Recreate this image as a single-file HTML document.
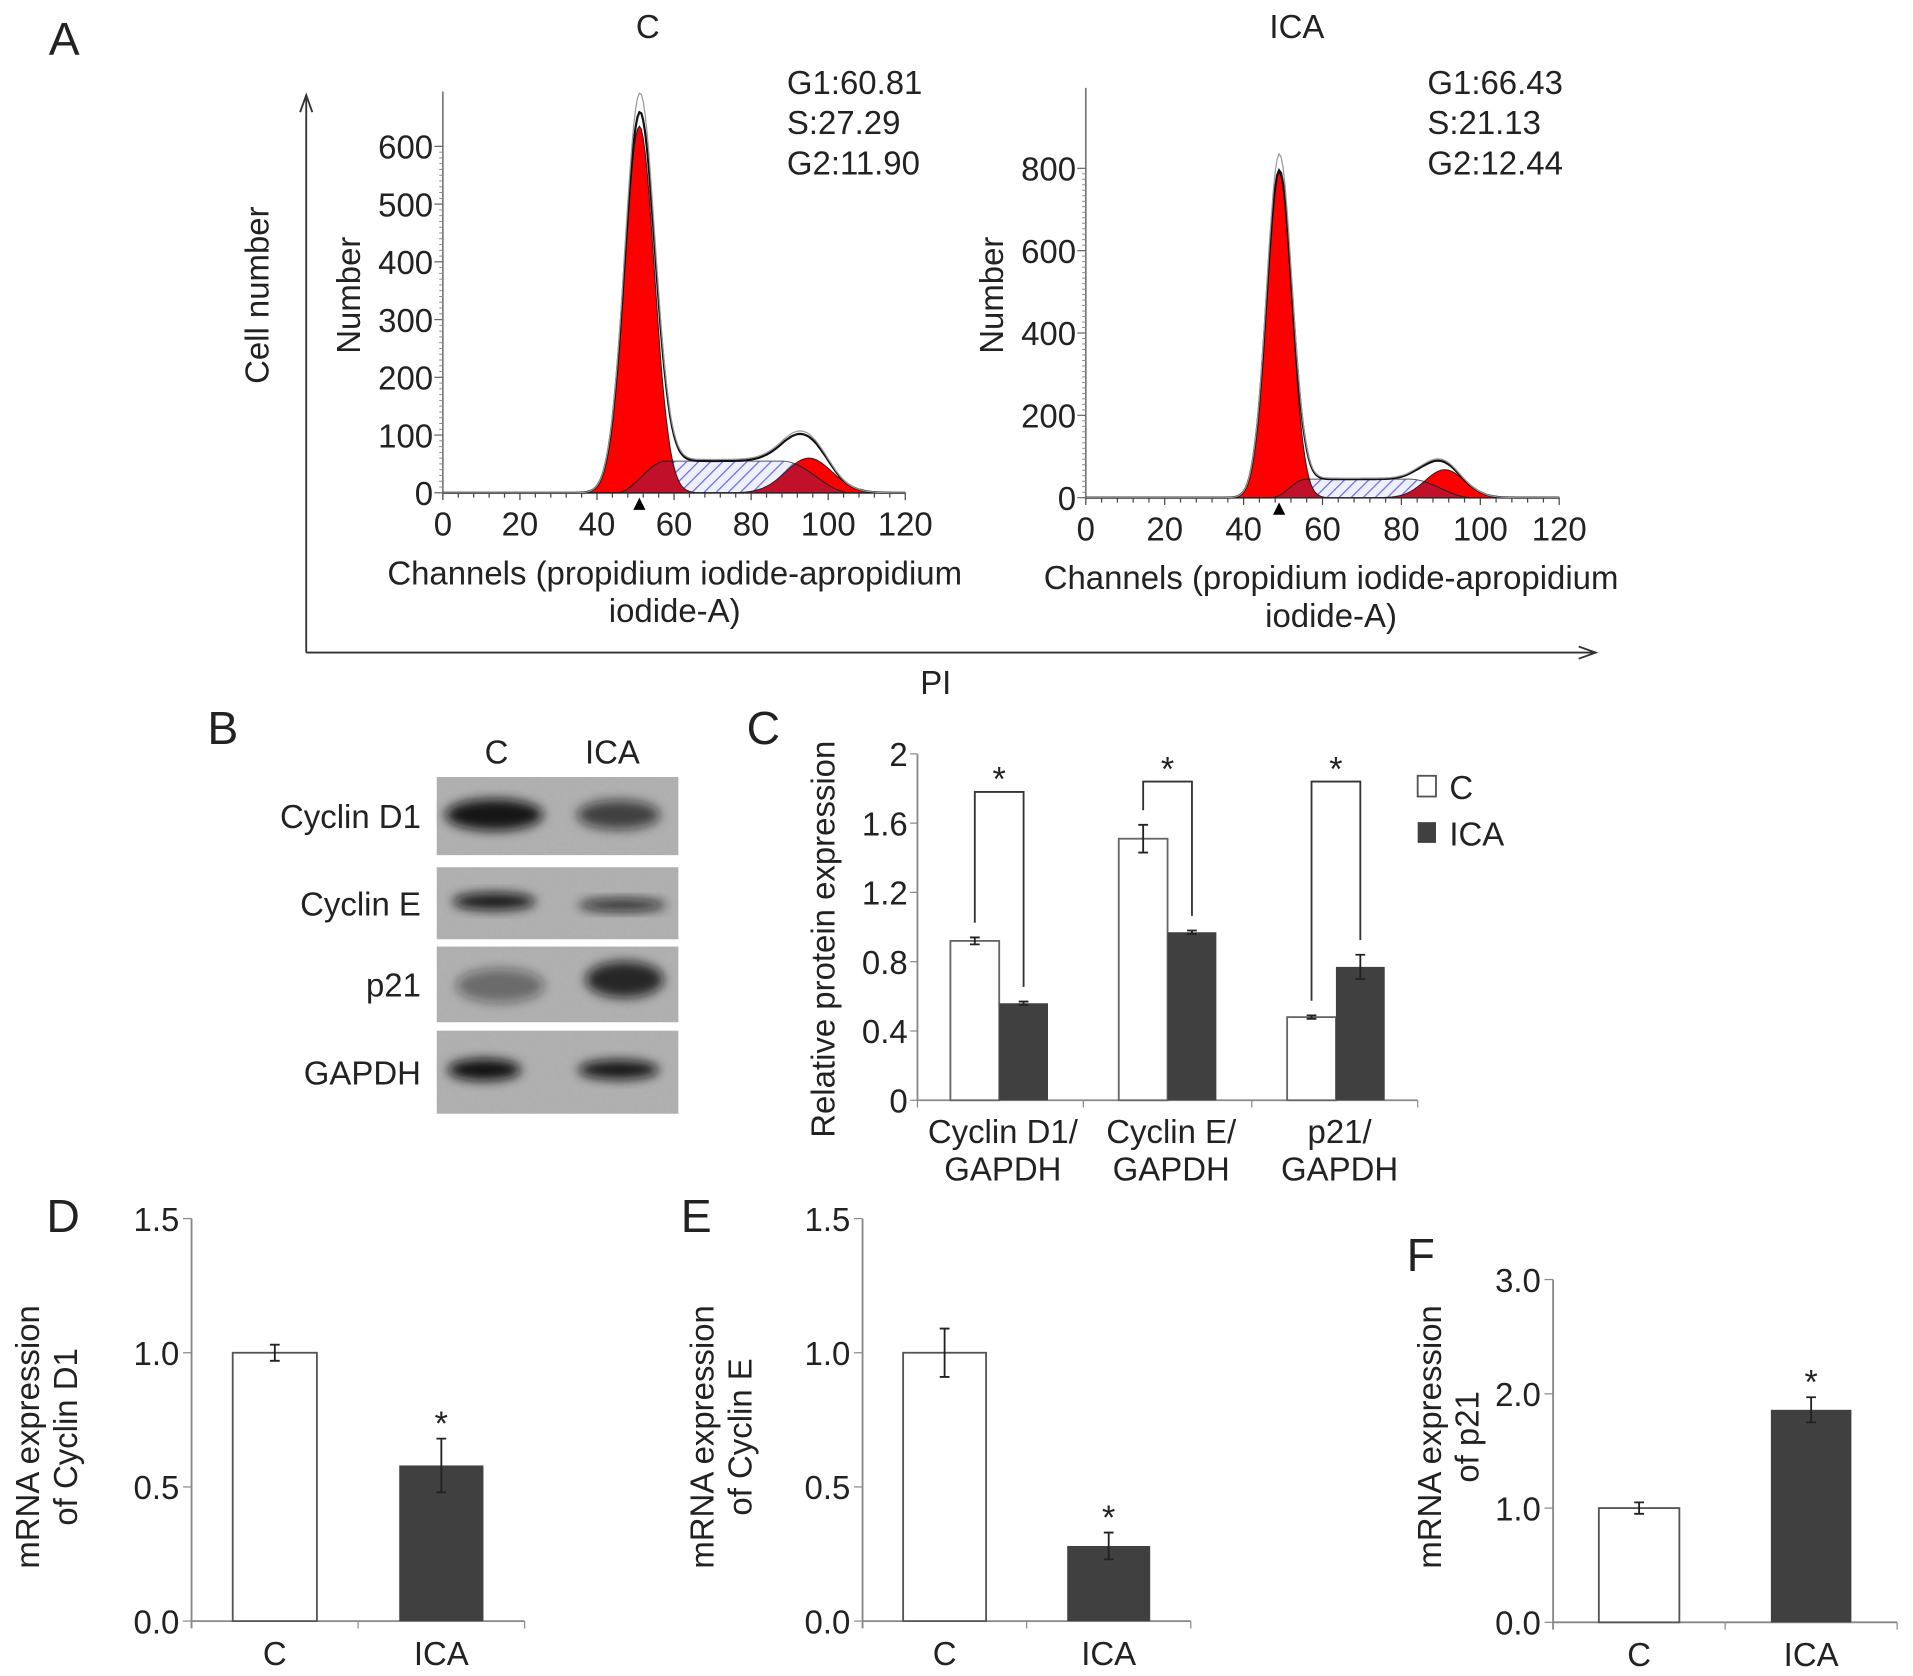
<!DOCTYPE html>
<html><head><meta charset="utf-8"><style>
html,body{margin:0;padding:0;background:#fff;}
svg{display:block;}
text{font-family:"Liberation Sans",Arial,sans-serif;fill:#222;}
</style></head><body>
<svg id="fig" width="1913" height="1676" viewBox="0 0 1568 1374" preserveAspectRatio="none" xmlns="http://www.w3.org/2000/svg">
<defs>
<pattern id="hatch" patternUnits="userSpaceOnUse" width="7" height="7" patternTransform="rotate(45)">
<rect width="7" height="7" fill="#eef0ff"/><line x1="0" y1="0" x2="0" y2="7" stroke="#6a6ad8" stroke-width="2"/></pattern>
<filter id="blur2" x="-50%" y="-50%" width="200%" height="200%"><feGaussianBlur stdDeviation="4.5"/></filter>
<filter id="noise" x="0" y="0" width="1" height="1" filterUnits="objectBoundingBox"><feTurbulence type="fractalNoise" baseFrequency="0.35" numOctaves="2" seed="3"/><feColorMatrix type="matrix" values="0 0 0 0 0.5  0 0 0 0 0.5  0 0 0 0 0.5  0 0 0 0.35 0"/></filter>
</defs>
<g id="root"></g>
</svg>
<script>
// ---- Panel A data ----
const histC_g1 = [635, 51, 3.9];   // height, mean, sd
const histC_s = [55, 45, 58, 88, 106]; // height, start, plateauStart, plateauEnd, end
const histC_g2 = [60, 95, 6];
const histC_ticksY = [0,100,200,300,400,500,600];
const histC_stats = ["G1:60.81","S:27.29","G2:11.90"];
const histI_g1 = [790, 49, 3.2];
const histI_s = [45, 47, 56, 82, 98];
const histI_g2 = [68, 91, 5];
const histI_ticksY = [0,200,400,600,800];
const histI_stats = ["G1:66.43","S:21.13","G2:12.44"];
const histTicksX = [0,20,40,60,80,100,120];
// ---- Panel C data ----
const protCats = [["Cyclin D1/","GAPDH"],["Cyclin E/","GAPDH"],["p21/","GAPDH"]];
const protC = [0.92, 1.51, 0.48];
const protCerr = [0.02, 0.08, 0.01];
const protICA = [0.56, 0.97, 0.77];
const protICAerr = [0.01, 0.01, 0.07];
const protBracket = [1.78, 1.84, 1.84];
const protTicks = [0,0.4,0.8,1.2,1.6,2];
const protTickLabels = ["0","0.4","0.8","1.2","1.6","2"];
// ---- Panels D/E/F data ----
const mrnaCats = ["C","ICA"];
const mrnaD = [1.0, 0.58]; const mrnaDerr = [0.03, 0.1];
const mrnaE = [1.0, 0.28]; const mrnaEerr = [0.09, 0.05];
const mrnaF = [1.0, 1.86]; const mrnaFerr = [0.05, 0.11];
const mrnaTicksDE = ["0.0","0.5","1.0","1.5"];
const mrnaTicksF = ["0.0","1.0","2.0","3.0"];

const FS=27;
const NS="http://www.w3.org/2000/svg";
const root=document.getElementById('root');
function el(tag,attrs,parent){const e=document.createElementNS(NS,tag);for(const k in attrs)e.setAttribute(k,attrs[k]);(parent||root).appendChild(e);return e;}
function txt(x,y,s,size,anchor,parent,extra){const t=el('text',Object.assign({x:x,y:y,'font-size':size,'text-anchor':anchor||'start'},extra||{}),parent);t.textContent=s;return t;}

[["A",40,45,"panel-label-a"],["B",170,610,"panel-label-b"],["C",612,610,"panel-label-c"],["D",38,1010,"panel-label-d"],["E",558,1010,"panel-label-e"],["F",1153,1042,"panel-label-f"]].forEach(p=>{
 const t=txt(p[1],p[2],p[0],38);
 
 
});

const ga=el('g',{});


el('line',{x1:251,y1:535,x2:251,y2:80,stroke:'#333','stroke-width':1.5},ga);
el('path',{d:'M246,92 L251,78 L256,92',fill:'none',stroke:'#333','stroke-width':1.5},ga);
el('line',{x1:251,y1:535,x2:1306,y2:535,stroke:'#333','stroke-width':1.5},ga);
el('path',{d:'M1294,530 L1308,535 L1294,540',fill:'none',stroke:'#333','stroke-width':1.5},ga);
const pil=txt(767,569,"PI",FS,'middle',ga);


const cnl=txt(0,0,"Cell number",FS,'middle',ga,{transform:'translate(220,242) rotate(-90)'});



function gauss(x,p){return p[0]*Math.exp(-0.5*Math.pow((x-p[1])/p[2],2));}
function sph(x,p){const h=p[0];if(x<=p[1]||x>=p[4])return 0;if(x<p[2]){const t=(x-p[1])/(p[2]-p[1]);return h*(0.5-0.5*Math.cos(Math.PI*t));}if(x<=p[3])return h;const t=(x-p[3])/(p[4]-p[3]);return h*(0.5+0.5*Math.cos(Math.PI*t));}

function hist(o){
 const g=el('g',{});
 
 
 const sx=v=>o.x0+(v/120)*(o.x1-o.x0);
 const sy=v=>o.y0-(v/o.ymax)*(o.y0-o.ytop);
 const tt=txt(o.titleX,31,o.title,FS,'middle',g);
 
 
 el('line',{x1:o.x0,y1:o.y0,x2:o.x0,y2:o.axTop,stroke:'#666','stroke-width':1.2},g);
 el('line',{x1:o.x0,y1:o.y0,x2:o.x1,y2:o.y0,stroke:'#444','stroke-width':1.5},g);
 for(let v=0;v<=120;v+=4){el('line',{x1:sx(v),y1:o.y0,x2:sx(v),y2:o.y0+(v%20==0?6:4),stroke:'#444','stroke-width':1},g);}
 for(let v=0;v<=o.ymax;v+=o.ymax/60){el('line',{x1:o.x0-3,y1:sy(v),x2:o.x0,y2:sy(v),stroke:'#888','stroke-width':0.8},g);}
 histTicksX.forEach(v=>{txt(sx(v),o.y0+35,String(v),FS,'middle',g);});
 o.ticksY.forEach(v=>{el('line',{x1:o.x0-7,y1:sy(v),x2:o.x0,y2:sy(v),stroke:'#666'},g);txt(o.x0-8,sy(v)+10,String(v),FS,'end',g);});
 const yt=txt(0,0,"Number",FS,'middle',g,{transform:`translate(${o.x0-68},242) rotate(-90)`});
 
 
 const xt1=txt(o.lblX,o.y0+75,"Channels (propidium iodide-apropidium",FS,'middle',g);
 
 
 txt(o.lblX,o.y0+106,"iodide-A)",FS,'middle',g);
 o.stats.forEach((s,i)=>txt(o.statX,77+i*33,s,FS,'start',g));
 const pts=f=>{let a=[];for(let v=0;v<=120;v+=0.5)a.push(sx(v).toFixed(1)+','+sy(f(v)).toFixed(1));return a;};
 const area=f=>'M'+sx(0)+','+o.y0+' L'+pts(f).join(' L')+' L'+sx(120)+','+o.y0+'Z';
 const sp=el('path',{d:area(v=>sph(v,o.s)),fill:'url(#hatch)',stroke:'#555','stroke-width':0.8},g);
 
 
 el('path',{d:area(v=>Math.min(sph(v,o.s),gauss(v,o.g1))),fill:'#c0102a',stroke:'none'},g);
 el('path',{d:area(v=>Math.min(sph(v,o.s),gauss(v,o.g2))),fill:'#c0102a',stroke:'none'},g);
 const p1=el('path',{d:'M'+pts(v=>gauss(v,o.g1)).join(' L')+' L'+pts(v=>Math.min(sph(v,o.s),gauss(v,o.g1))).reverse().join(' L')+'Z',fill:'#ff0000',stroke:'#222','stroke-width':0.8},g);
 
 
 const p2=el('path',{d:'M'+pts(v=>gauss(v,o.g2)).join(' L')+' L'+pts(v=>Math.min(sph(v,o.s),gauss(v,o.g2))).reverse().join(' L')+'Z',fill:'#ff0000',stroke:'#222','stroke-width':0.8},g);
 
 
 const tot=v=>gauss(v,o.g1)+sph(v,o.s)+gauss(v,o.g2);
 const tl=el('path',{d:'M'+pts(tot).join(' L'),fill:'none',stroke:'#111','stroke-width':1.8},g);
 
 
 el('path',{d:'M'+pts(v=>tot(v)*1.05).join(' L'),fill:'none',stroke:'#999','stroke-width':1},g);
 el('path',{d:`M${sx(o.g1[1])-5},${o.y0+14} L${sx(o.g1[1])},${o.y0+4} L${sx(o.g1[1])+5},${o.y0+14}Z`,fill:'#000'},g);
}
hist({name:'histogram-control',x0:363,x1:742,y0:404,ytop:120,ymax:600,axTop:75,ticksY:histC_ticksY,g1:histC_g1,s:histC_s,g2:histC_g2,stats:histC_stats,statX:645,title:"C",titleX:531,lblX:553});
hist({name:'histogram-ica',x0:890,x1:1278,y0:408,ytop:138,ymax:800,axTop:72,ticksY:histI_ticksY,g1:histI_g1,s:histI_s,g2:histI_g2,stats:histI_stats,statX:1170,title:"ICA",titleX:1063,lblX:1091});

(function(){
 const g=el('g',{});
 
 
 txt(407,626,"C",FS,'middle',g);txt(502,626,"ICA",FS,'middle',g);
 const rows=[["Cyclin D1",637,701,[[405,668,40,13,0.95],[507,668,34,12,0.7]]],["Cyclin E",711,770,[[405,739,34,7,0.95],[510,742,36,5,0.85]]],["p21",776,838,[[410,808,36,14,0.45],[512,803,32,15,0.85]]],["GAPDH",845,913,[[397,877,30,9,0.98],[507,877,33,8,0.95]]]];
 rows.forEach(r=>{
  el('rect',{x:358,y:r[1],width:198,height:r[2]-r[1],fill:'#adadad'},g);
  el('rect',{x:358,y:r[1],width:198,height:r[2]-r[1],filter:'url(#noise)'},g);
  r[3].forEach(b=>el('ellipse',{cx:b[0],cy:b[1],rx:b[2],ry:b[3],fill:'#111','fill-opacity':b[4],filter:'url(#blur2)'},g));
  txt(345,(r[1]+r[2])/2+10,r[0],FS,'end',g);
 });
})();

(function(){
 const g=el('g',{});
 
 
 const x0=752,y0=902,ytop=618,xEnd=1162;
 const sy=v=>y0-(v/2)*(y0-ytop);
 const groupX=i=>779+i*138;
 const bw=40;
 el('line',{x1:x0,y1:y0,x2:x0,y2:ytop,stroke:'#888','stroke-width':1.5},g);
 el('line',{x1:x0,y1:y0,x2:xEnd,y2:y0,stroke:'#888','stroke-width':1.5},g);
 protTicks.forEach((v,i)=>{el('line',{x1:x0-6,y1:sy(v),x2:x0,y2:sy(v),stroke:'#888'},g);txt(x0-8,sy(v)+10,protTickLabels[i],FS,'end',g);});
 [0,1,2,3].forEach(i=>{const xx=i==0?x0:(i==3?xEnd:groupX(i)-(138-2*bw)/2);el('line',{x1:xx,y1:y0,x2:xx,y2:y0+6,stroke:'#888'},g);});
 protCats.forEach((c,i)=>{
  const gx=groupX(i);
  const b1=el('rect',{x:gx,y:sy(protC[i]),width:bw,height:y0-sy(protC[i]),fill:'#fff',stroke:'#666','stroke-width':1.5},g);
  
  
  const b2=el('rect',{x:gx+bw,y:sy(protICA[i]),width:bw,height:y0-sy(protICA[i]),fill:'#404040'},g);
  
  
  [[gx+bw/2,protC[i],protCerr[i]],[gx+1.5*bw,protICA[i],protICAerr[i]]].forEach(e=>{
   el('path',{d:`M${e[0]},${sy(e[1]+e[2])} V${sy(e[1]-e[2])} M${e[0]-4},${sy(e[1]+e[2])} h8 M${e[0]-4},${sy(e[1]-e[2])} h8`,stroke:'#222','stroke-width':1.5,fill:'none'},g);
  });
  const by=sy(protBracket[i]);
  const lx=gx+bw/2, rx=gx+1.5*bw;
  el('path',{d:`M${lx},${sy(protC[i]+protCerr[i])-12} V${by} H${rx} V${sy(protICA[i]+protICAerr[i])-12}`,fill:'none',stroke:'#333','stroke-width':1.5},g);
  txt((lx+rx)/2,by-1,"*",28,'middle',g);
  txt(gx+bw+3,y0+35,c[0],FS,'middle',g);txt(gx+bw+3,y0+66,c[1],FS,'middle',g);
 });
 const yt=txt(0,0,"Relative protein expression",FS,'middle',g,{transform:'translate(684,770) rotate(-90)'});
 
 
 const l1=el('rect',{x:1162,y:636,width:15,height:17,fill:'#fff',stroke:'#555','stroke-width':1.5},g);
 
 
 txt(1188,655,"C",FS,'start',g);
 const l2=el('rect',{x:1162,y:674,width:15,height:17,fill:'#404040'},g);
 
 
 txt(1188,693,"ICA",FS,'start',g);
})();

function mrna(o){
 const g=el('g',{});
 
 
 const sy=v=>o.y0-(v/o.ymax)*(o.y0-o.ytop);
 el('line',{x1:o.x0,y1:o.y0+6,x2:o.x0,y2:o.ytop,stroke:'#888','stroke-width':1.5},g);
 el('line',{x1:o.x0,y1:o.y0,x2:o.x1,y2:o.y0,stroke:'#888','stroke-width':1.5},g);
 const mid=(o.x0+o.x1)/2;
 [mid,o.x1].forEach(x=>el('line',{x1:x,y1:o.y0,x2:x,y2:o.y0+6,stroke:'#888'},g));
 o.ticks.forEach((s,i)=>{const v=i*o.ymax/(o.ticks.length-1);el('line',{x1:o.x0-7,y1:sy(v),x2:o.x0,y2:sy(v),stroke:'#888'},g);txt(o.x0-10,sy(v)+10,s,FS,'end',g);});
 const half=(o.x1-o.x0)/2;
 mrnaCats.forEach((c,i)=>{
  const cx=o.x0+half*(i+0.5);
  const v=o.vals[i],e=o.errs[i];
  const r=el('rect',{x:cx-o.bw/2,y:sy(v),width:o.bw,height:o.y0-sy(v),fill:i?'#404040':'#fff',stroke:i?'none':'#555','stroke-width':1.5},g);
  
  
  el('path',{d:`M${cx},${sy(v+e)} V${sy(v-e)} M${cx-4},${sy(v+e)} h8 M${cx-4},${sy(v-e)} h8`,stroke:'#222','stroke-width':1.5,fill:'none'},g);
  if(i==1)txt(cx,sy(v+e)-3,"*",28,'middle',g);
  txt(cx,o.y0+36,c,FS,'middle',g);
 });
 const a=txt(0,0,"mRNA expression",FS,'middle',g,{transform:`translate(${o.lx},${o.ly}) rotate(-90)`});
 
 
 txt(0,0,o.l2,FS,'middle',g,{transform:`translate(${o.lx+31},${o.ly}) rotate(-90)`});
}
mrna({name:'mrna-cyclin-d1-chart',x0:157,x1:430,y0:1329,ytop:999,ymax:1.5,bw:69,vals:mrnaD,errs:mrnaDerr,ticks:mrnaTicksDE,lx:32,ly:1178,l2:"of Cyclin D1"});
mrna({name:'mrna-cyclin-e-chart',x0:707,x1:976,y0:1329,ytop:999,ymax:1.5,bw:68,vals:mrnaE,errs:mrnaEerr,ticks:mrnaTicksDE,lx:585,ly:1178,l2:"of Cyclin E"});
mrna({name:'mrna-p21-chart',x0:1273,x1:1555,y0:1330,ytop:1049,ymax:3.0,bw:66,vals:mrnaF,errs:mrnaFerr,ticks:mrnaTicksF,lx:1181,ly:1178,l2:"of p21"});
</script>
</body></html>
